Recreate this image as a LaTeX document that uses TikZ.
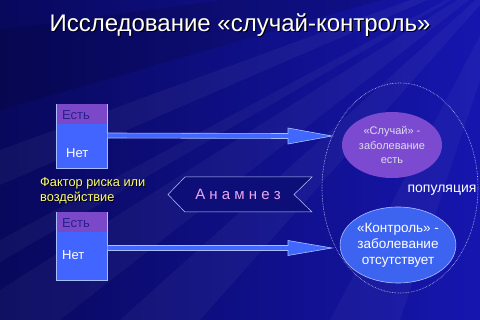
\documentclass[tikz,border=0pt]{standalone}
\usepackage{fontspec}
\setmainfont{Liberation Sans}
\usetikzlibrary{shapes.geometric,calc}
\definecolor{bgdark}{RGB}{8,8,92}
\definecolor{bglight}{RGB}{22,22,175}
\definecolor{boxpurple}{RGB}{122,72,200}
\definecolor{boxblue}{RGB}{66,100,255}
\definecolor{esttext}{RGB}{42,32,140}
\definecolor{edgelight}{RGB}{170,190,255}
\definecolor{casepurple}{RGB}{124,74,208}
\definecolor{ctrlblue}{RGB}{60,100,240}
\definecolor{anamfill}{RGB}{14,14,120}
\definecolor{anamtext}{RGB}{232,168,240}
\definecolor{factyellow}{RGB}{255,255,110}
\definecolor{casetext}{RGB}{220,220,235}
\definecolor{arrowblue}{RGB}{64,104,255}
\tikzset{
  boxbase/.style={rectangle,draw=edgelight,line width=0.6pt,fill=boxblue,minimum width=51pt,inner sep=0pt,anchor=north west},
  boxtop/.style={rectangle,fill=boxpurple,minimum width=50pt,minimum height=20pt,inner sep=0pt,anchor=north west},
  boxlbl/.style={font=\fontsize{13}{15}\selectfont,anchor=west,inner sep=0pt},
  bigarrow/.style={draw=edgelight,line width=0.6pt,fill=arrowblue},
  casebox/.style={ellipse,fill=casepurple,draw=none,minimum width=100pt,minimum height=66pt,inner sep=0pt,align=center,text=casetext,font=\fontsize{11}{14.5}\selectfont},
  ctrlbox/.style={ellipse,fill=ctrlblue,draw=edgelight,line width=0.6pt,minimum width=92pt,minimum height=76pt,inner sep=0pt,align=center,text=white,font=\fontsize{13.5}{16}\selectfont},
}
\begin{document}
\begin{tikzpicture}[x=1pt,y=-1pt]
% background
\shade[left color=bgdark,right color=bglight] (0,0) rectangle (480,320);
\useasboundingbox (0,0) rectangle (480,320);
\begin{scope}
\clip (0,0) rectangle (480,320);
\fill[white,opacity=0.045] (520,-40) -- (0,150) -- (0,185) -- cycle;
\fill[white,opacity=0.04] (520,-40) -- (120,320) -- (200,320) -- cycle;
\fill[white,opacity=0.04] (520,-40) -- (0,240) -- (0,262) -- cycle;
\fill[white,opacity=0.035] (520,-40) -- (330,320) -- (400,320) -- cycle;
\fill[black,opacity=0.12] (520,-40) -- (0,30) -- (0,110) -- cycle;
\fill[white,opacity=0.04] (520,-40) -- (0,290) -- (0,320) -- (60,320) -- cycle;
\end{scope}
% title
\node[text=black,font=\fontsize{24}{28}\selectfont] at (241.2,26.2) {Исследование «случай-контроль»};
\node[text=white,font=\fontsize{24}{28}\selectfont] (title) at (240,25) {Исследование «случай-контроль»};
% population ellipse
\node[ellipse,draw=white!80!blue,densely dotted,line width=0.6pt,minimum width=156pt,minimum height=210pt,inner sep=0pt] (pop) at (400,188) {};
% boxes
\node[boxbase,minimum height=64pt] (b1) at (56,104) {};
\node[boxtop] (b1t) at (56.3,104.3) {};
\node[boxlbl,text=esttext] (e1) at (62,115) {Есть};
\node[boxlbl,text=white] (n1) at (66,153) {Нет};
\node[boxbase,minimum height=68pt] (b2) at (56,212) {};
\node[boxtop] (b2t) at (56.3,212.3) {};
\node[boxlbl,text=esttext] (e2) at (62,223) {Есть};
\node[boxlbl,text=white] (n2) at (62,255) {Нет};
% ellipses
\node[casebox] (case) at (392,145) {«Случай» -\\заболевание\\есть};
\node[ctrlbox] (ctrl) at (398,245) {«Контроль» -\\заболевание\\отсутствует};
% arrows
\coordinate (t1) at (332,136);
\coordinate (t2) at (332,248);
\draw[bigarrow] ($(b1.north east)+(0,29)$) -- ($(t1)+(-44,-2.5)$) -- ($(t1)+(-44,-8)$) -- (t1) -- ($(t1)+(-44,8)$) -- ($(t1)+(-44,2.5)$) -- ($(b1.north east)+(0,34)$);
\draw[bigarrow] ($(b2.north east)+(0,33.5)$) -- ($(t2)+(-44,-2.5)$) -- ($(t2)+(-44,-7.5)$) -- (t2) -- ($(t2)+(-44,7.5)$) -- ($(t2)+(-44,2.5)$) -- ($(b2.north east)+(0,38.5)$);
% anamnez
\draw[fill=anamfill,draw=edgelight!80!white,line width=0.5pt] (168,194.5) -- (185,177) -- (312,177) -- (294,194.5) -- (312,212) -- (185,212) -- cycle;
\node[text=anamtext,font=\fontsize{15}{17}\selectfont] (anam) at (238,194) {А н а м н е з};
% labels
\node[anchor=west,align=left,text=black,font=\fontsize{12.8}{14.5}\selectfont,inner sep=0pt] at (40.8,191.8) {Фактор риска или\\воздействие};
\node[anchor=west,align=left,text=factyellow,font=\fontsize{12.8}{14.5}\selectfont,inner sep=0pt] (fact) at (40,191) {Фактор риска или\\воздействие};
\node[text=white,font=\fontsize{14}{16}\selectfont] (popl) at (442,190) {популяция};
\end{tikzpicture}
\end{document}
